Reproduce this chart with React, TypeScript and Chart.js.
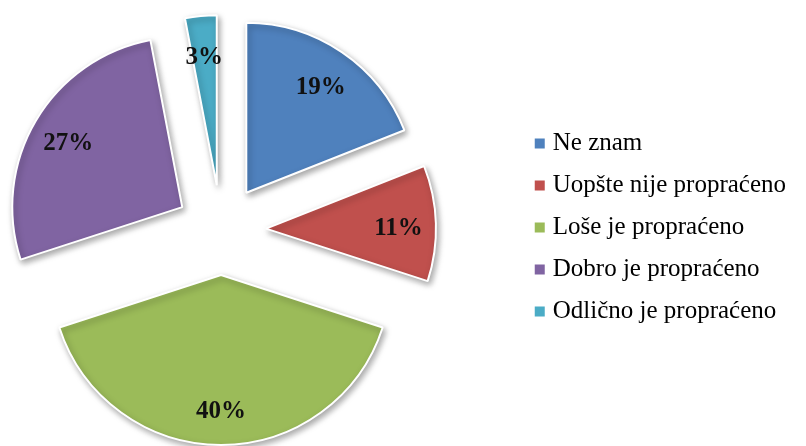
import React, { useEffect, useRef } from "react";
import { Chart, registerables } from "chart.js";

Chart.register(...registerables);

const categories = [
  "Ne znam",
  "Uopšte nije propraćeno",
  "Loše je propraćeno",
  "Dobro je propraćeno",
  "Odlično je propraćeno",
];
const values = [19, 11, 40, 27, 3];
const colors = ["#4F81BD", "#C0504D", "#9BBB59", "#8064A2", "#4BACC6"];

const EXPLODE = 45;
const LABEL_POS = 0.78;
const LABEL_DY = 4;
const PIE_CENTER_X = 221;
const PIE_CENTER_Y = 230;

const explodePlugin = {
  id: "explodePie",
  afterLayout(chart: any) {
    const area = chart.chartArea;
    area.left = 2 * PIE_CENTER_X - area.right;
    area.width = area.right - area.left;
    area.top = 2 * PIE_CENTER_Y - area.bottom;
    area.height = area.bottom - area.top;
  },
  beforeDatasetDraw(chart: any, args: any) {
    const ctx = chart.ctx;
    args.meta.data.forEach((arc: any) => {
      const mid = (arc.startAngle + arc.endAngle) / 2;
      ctx.save();
      ctx.translate(Math.cos(mid) * EXPLODE, Math.sin(mid) * EXPLODE);
      ctx.shadowColor = "rgba(0,0,0,0.35)";
      ctx.shadowBlur = 6;
      ctx.shadowOffsetX = 2;
      ctx.shadowOffsetY = 3;
      arc.draw(ctx);
      ctx.restore();
    });
    return false;
  },
  afterDatasetsDraw(chart: any) {
    const ctx = chart.ctx;
    const meta = chart.getDatasetMeta(0);
    ctx.save();
    ctx.font = "bold 25px 'Liberation Serif'";
    ctx.fillStyle = "#111111";
    ctx.textAlign = "center";
    ctx.textBaseline = "middle";
    meta.data.forEach((arc: any, i: number) => {
      const mid = (arc.startAngle + arc.endAngle) / 2;
      const r = EXPLODE + arc.outerRadius * LABEL_POS;
      ctx.fillText(`${values[i]}%`, arc.x + Math.cos(mid) * r, arc.y + Math.sin(mid) * r + LABEL_DY);
    });
    ctx.restore();
  },
};

export default function App() {
  const ref = useRef<HTMLCanvasElement | null>(null);
  useEffect(() => {
    if (!ref.current) return;
    const chart = new Chart(ref.current, {
      type: "pie",
      data: {
        labels: categories,
        datasets: [
          {
            data: values,
            backgroundColor: colors,
            borderColor: "#ffffff",
            borderWidth: 2,
            hoverOffset: 0,
          },
        ],
      },
      options: {
        responsive: false,
        animation: false,
        events: [],
        radius: 170,
        layout: { padding: { left: 0, right: 10, top: 9, bottom: 0 } },
        plugins: {
          tooltip: { enabled: false },
          legend: {
            position: "right",
            align: "center",
            labels: {
              usePointStyle: true,
              pointStyle: "rect",
              boxWidth: 1,
              boxHeight: 10,
              padding: 17,
              color: "#000000",
              font: { family: "'Liberation Serif', 'Times New Roman', serif", size: 25 },
              generateLabels: () =>
                categories.map((c, i) => ({
                  text: c,
                  fillStyle: colors[i],
                  strokeStyle: colors[i],
                  lineWidth: 0,
                  pointStyle: "rect",
                  hidden: false,
                  index: i,
                  fontColor: "#000000",
                })),
            },
          },
        },
      } as any,
      plugins: [explodePlugin],
    });
    return () => chart.destroy();
  }, []);
  return (
    <div style={{ position: "absolute", left: 0, top: 0, width: 806, height: 446, background: "#ffffff" }}>
      <canvas ref={ref} width={806} height={446} style={{ display: "block" }} />
    </div>
  );
}
